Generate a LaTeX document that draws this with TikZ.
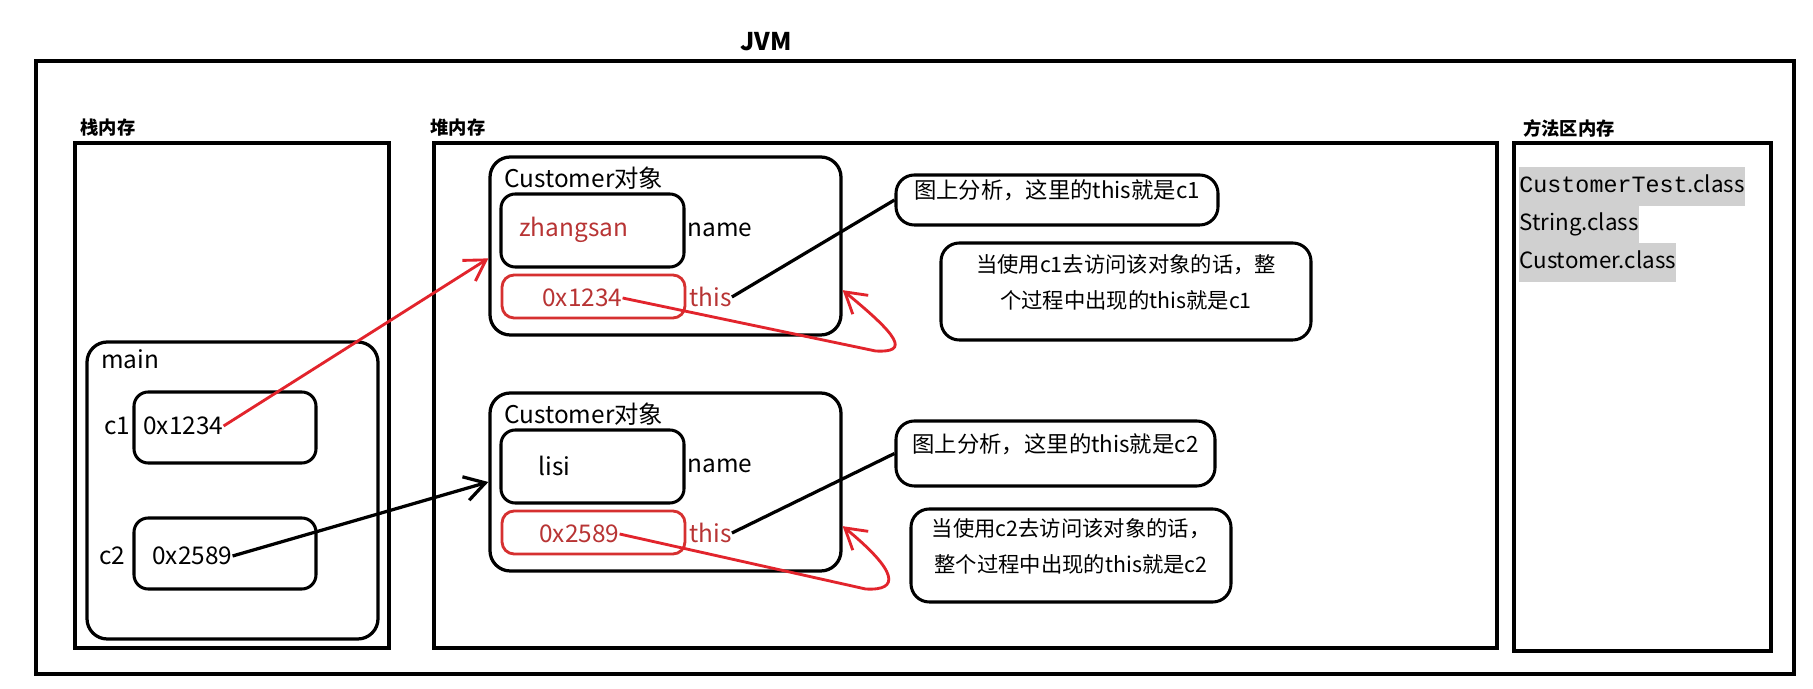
\documentclass[tikz,border=0pt]{standalone}
\usepackage{fontspec}
\setmainfont{Noto Sans CJK SC}
\newfontfamily\codefont{Liberation Mono}
\usetikzlibrary{arrows.meta,fit}
\definecolor{ptrred}{RGB}{226,36,44}
\definecolor{valred}{RGB}{184,52,52}
\definecolor{boxred}{RGB}{214,48,48}
\definecolor{marker}{RGB}{208,208,208}

\begin{document}
\begin{tikzpicture}[x=0.0173cm,y=-0.0173cm,>={Straight Barb[length=10pt,width=12pt]},
	inner sep=0pt,font=\fontsize{12}{14}\selectfont,
	area/.style={draw,line width=1.6pt},
	frame/.style={draw,line width=1.6pt,rounded corners=10pt},
	cell/.style={draw,line width=1.5pt,rounded corners=7pt},
	refcell/.style={draw=boxred,line width=1.4pt,rounded corners=6pt},
	tip/.style={draw,line width=1.5pt,rounded corners=9pt,align=left,font=\fontsize{10.5}{18}\selectfont},
	region/.style={font=\fontsize{9}{11}\selectfont\bfseries},
	ptr/.style={->,line width=1.4pt,draw=ptrred}]

	\fill[white] (0,0) rectangle (1813,689);
	\useasboundingbox (0,0) rectangle (1813,689);

	\node[area,fit={(36,61) (1794,674)}] (jvm) {};
	\node[font=\fontsize{12}{14}\selectfont\bfseries] (jvmname) at (766,42) {JVM};

	% stack, heap and method area
	\foreach \part/\lx/\rx/\by/\title/\tx in {stack/75/389/648/栈内存/108,
			heap/434/1497/648/堆内存/458, method/1514/1771/651/方法区内存/1569} {
		\node[area,fit={(\lx,143) (\rx,\by)}] (\part) {};
		\node[region] (\part name) at (\tx,128) {\title};
	};

	% main frame with c1, c2
	\node[frame,fit={(87,342) (378,639)}] (main) {};
	\node[anchor=west] (mainname) at (101,359) {main};
	\foreach \v/\vy/\ty/\ax/\lx/\addr in {c1/392/426/143/104/0x1234, c2/518/556/152/99/0x2589} {
		\node[cell,fit={(134,\vy) (316,{\vy+71})}] (\v) {};
		\node[anchor=west] (\v name) at (\lx,\ty) {\v};
		\node[anchor=west] (\v addr) at (\ax,\ty) {\addr};
	};

	% two Customer objects
	\foreach \k/\oy/\who/\wx/\wc/\addr/\ax in {1/157/zhangsan/519/valred/0x1234/542,
			2/393/lisi/538/black/0x2589/539} {
		\node[frame,fit={(490,\oy) (841,{\oy+178})}] (obj\k) {};
		\node[anchor=west] (objname\k) at (504,{\oy+21}) {Customer对象};
		\node[cell,fit={(501,{\oy+37}) (684,{\oy+110})}] (name\k) {};
		\node[anchor=west,text=\wc] (who\k) at (\wx,{\oy+73}) {\who};
		\node[anchor=west] (field\k) at (687,{\oy+73}) {name};
		\node[refcell,fit={(502,{\oy+118}) (685,{\oy+161})}] (ref\k) {};
		\node[anchor=west,text=valred] (addr\k) at (\ax,{\oy+141}) {\addr};
		\node[anchor=west,text=valred] (this\k) at (689,{\oy+140}) {this};
	};

	% notes
	\node[tip,font=\fontsize{11}{18}\selectfont,fit={(896,175) (1218,225)}] (tip1) {图上分析，这里的this就是c1};
	\node[tip,fit={(941,243) (1311,340)}] (tip2) {当使用c1去访问该对象的话，整\\个过程中出现的this就是c1};
	\node[tip,font=\fontsize{11}{18}\selectfont,fit={(896,421) (1215,486)}] (tip3) {图上分析，这里的this就是c2};
	\node[tip,fit={(911,509) (1231,602)}] (tip4) {当使用c2去访问该对象的话，\\整个过程中出现的this就是c2};

	% loaded classes
	\foreach \k/\y/\cls in {1/186.5/{{\codefont\fontsize{11.5}{14}\selectfont CustomerTest}.class},
			2/224/String.class, 3/262.5/Customer.class} {
		\node[fill=marker,anchor=west,font=\fontsize{11}{14}\selectfont,
			text height=0.29cm,text depth=0.07cm,minimum height=0.66cm] (class\k) at (1519,\y) {\cls};
	};

	% references
	\draw[ptr] (c1addr.east) -- (obj1.184);
	\draw[->,line width=1.6pt] (c2addr.east) -- (obj2.west);
	\draw[line width=1.6pt] (this1.east) -- (tip1.west);
	\draw[line width=1.6pt] (this2.east) -- (tip3.west);
	\draw[ptr] (addr1.east) -- ++(253,53) .. controls +(35,2) and +(55,45) .. (obj1.346);
	\draw[ptr] (addr2.east) -- ++(246,55) .. controls +(35,2) and +(55,45) .. (obj2.346);
\end{tikzpicture}
\end{document}
